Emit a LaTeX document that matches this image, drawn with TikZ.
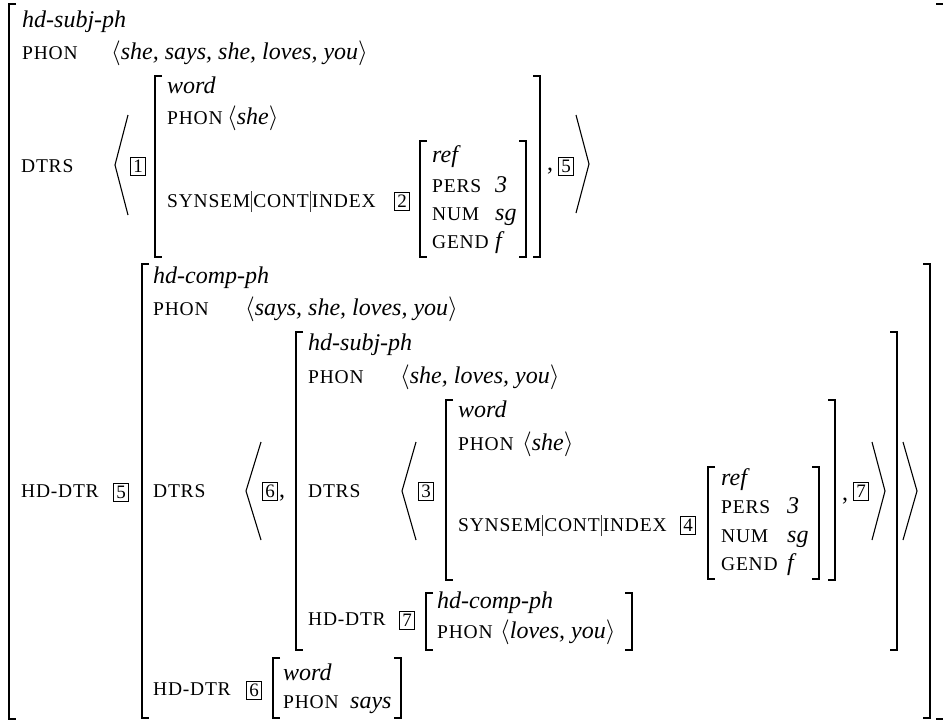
\documentclass[tikz,border=0pt]{standalone}
\usepackage{fontspec}
\setmainfont{Liberation Serif}
\newfontfamily\capsfont[LetterSpace=4]{Liberation Serif}
\newcommand\fs{\fontsize{24}{28}\selectfont\spaceskip=0.25em plus 0.05em\relax}
\newcommand\fc{\fontsize{19.5}{22}\selectfont\capsfont}
\newcommand\fsb{\fontsize{19}{20}\selectfont}
\newcommand\pbar{\kern1.2pt{\color{black!75}\rule[-5pt]{0.7pt}{21pt}}\kern1.2pt}
\newcommand\avmL[3]{\draw[brk] ({#1+7},#2) -- (#1,#2) -- (#1,#3) -- ({#1+7},#3);}
\newcommand\avmR[3]{\draw[brk] ({#1-7},#2) -- (#1,#2) -- (#1,#3) -- ({#1-7},#3);}
\newcommand\angleL[4]{\draw[ang] (#2,#3) -- (#1,{(#3+#4)/2}) -- (#2,#4);}
\newcommand\angleR[4]{\draw[ang] (#2,#3) -- (#1,{(#3+#4)/2}) -- (#2,#4);}
\tikzset{
  every node/.style={inner sep=0pt, anchor=base west, font=\fs},
  typ/.style={font=\fs\itshape},
  feat/.style={font=\fc},
  tagbox/.style={draw, line width=0.6pt, anchor=center, minimum width=15pt, minimum height=18pt, inner sep=0pt, font=\fsb},
  brk/.style={line width=1.8pt},
  ang/.style={line width=1.1pt},
}
\begin{document}
\begin{tikzpicture}[x=1pt,y=-1pt]
\useasboundingbox (0,0) rectangle (943,721);
\clip (0,0) rectangle (943,721);
% outer AVM
\avmL{9}{4}{719}
\draw[brk] (936,4) -- (943.5,4) -- (943.5,719) -- (936,719);
\node[typ] (t0) at (22,27) {hd-subj-ph};
\node[feat] (p0) at (22,59) {PHON};
\node[typ] (v0) at (111,59) {$\langle$she, says, she, loves, you$\rangle$};
\node[feat] (d0) at (21,172) {DTRS};
\angleL{115}{128}{115}{215}
\node[tagbox] (g1) at (138,166) {1};
% first daughter: word
\avmL{155}{76}{257}
\avmR{540}{76}{257}
\node[typ] (t1) at (167,93) {word};
\node[feat] (p1) at (167,124) {PHON};
\node[typ] (v1) at (227,124) {$\langle$she$\rangle$};
\node[feat] (s1) at (167,207) {SYNSEM\pbar CONT\pbar INDEX};
\node[tagbox] (g2) at (402,201) {2};
\avmL{420}{141}{257}
\avmR{526}{141}{257}
\node[typ] (r1) at (432,162) {ref};
\node[feat] (pe1) at (432,192) {PERS};
\node[typ] (pv1) at (495,192) {3};
\node[feat] (nu1) at (432,220) {NUM};
\node[typ] (nv1) at (495,220) {sg};
\node[feat] (ge1) at (432,248) {GEND};
\node[typ] (gv1) at (495,248) {f};
\node (c1) at (547,170) {,};
\node[tagbox] (g5) at (566,166) {5};
\angleR{589}{576}{115}{213}
% head daughter
\node[feat] (h0) at (21,497) {HD-DTR};
\node[tagbox] (g5b) at (121,492) {5};
\avmL{142}{264}{718}
\avmR{930}{264}{718}
\node[typ] (t2) at (153,283) {hd-comp-ph};
\node[feat] (p2) at (153,315) {PHON};
\node[typ] (v2) at (245,315) {$\langle$says, she, loves, you$\rangle$};
\node[feat] (d2) at (153,497) {DTRS};
\angleL{246}{261}{442}{540}
\node[tagbox] (g6) at (270,491) {6};
\node (c2) at (279,497) {,};
% hd-subj-ph inside
\avmL{296}{332}{650}
\avmR{897}{332}{650}
\node[typ] (t3) at (308,350) {hd-subj-ph};
\node[feat] (p3) at (308,383) {PHON};
\node[typ] (v3) at (400,383) {$\langle$she, loves, you$\rangle$};
\node[feat] (d3) at (308,497) {DTRS};
\angleL{402}{416}{442}{540}
\node[tagbox] (g3) at (426,491) {3};
\avmL{446}{400}{580}
\avmR{835}{400}{580}
\node[typ] (t4) at (458,417) {word};
\node[feat] (p4) at (458,450) {PHON};
\node[typ] (v4) at (522,450) {$\langle$she$\rangle$};
\node[feat] (s4) at (458,531) {SYNSEM\pbar CONT\pbar INDEX};
\node[tagbox] (g4) at (688,525) {4};
\avmL{708}{467}{579}
\avmR{819}{467}{579}
\node[typ] (r4) at (721,485) {ref};
\node[feat] (pe4) at (721,513) {PERS};
\node[typ] (pv4) at (787,513) {3};
\node[feat] (nu4) at (721,542) {NUM};
\node[typ] (nv4) at (787,542) {sg};
\node[feat] (ge4) at (721,570) {GEND};
\node[typ] (gv4) at (787,570) {f};
\node (c4) at (842,500) {,};
\node[tagbox] (g7) at (861,491) {7};
\angleR{885}{872}{442}{540}
\angleR{917}{903}{442}{540}
% HD-DTR 7
\node[feat] (h3) at (308,625) {HD-DTR};
\node[tagbox] (g7b) at (407,620) {7};
\avmL{426}{593}{650}
\avmR{632}{593}{650}
\node[typ] (t5) at (437,608) {hd-comp-ph};
\node[feat] (p5) at (437,638) {PHON};
\node[typ] (v5) at (500,638) {$\langle$loves, you$\rangle$};
% HD-DTR 6
\node[feat] (h2) at (153,695) {HD-DTR};
\node[tagbox] (g6b) at (254,690) {6};
\avmL{273}{658}{718}
\avmR{401}{658}{718}
\node[typ] (t6) at (283,680) {word};
\node[feat] (p6) at (283,708) {PHON};
\node[typ] (v6) at (350,708) {says};
\end{tikzpicture}
\end{document}
